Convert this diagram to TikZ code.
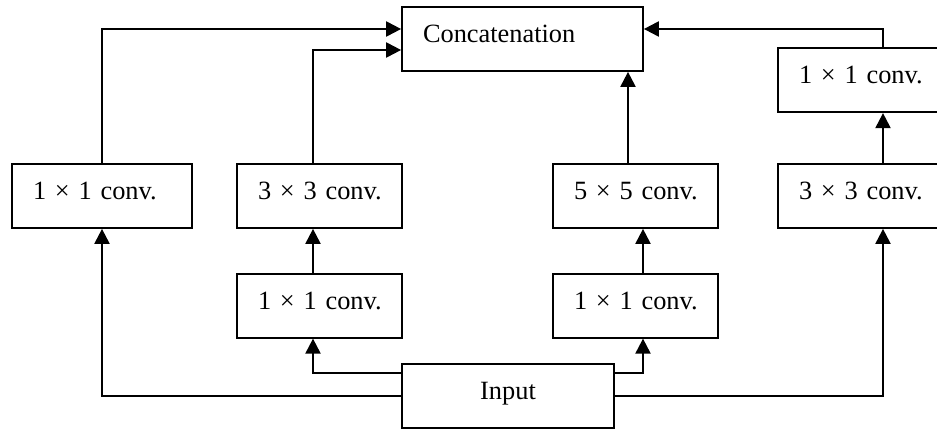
\documentclass[tikz,border=0pt]{standalone}
\usepackage{fontspec}
\setmainfont{Liberation Serif}
\usepackage{tikz}
\usetikzlibrary{arrows.meta, positioning, calc}
\tikzstyle{block} = [draw, rectangle, line width=1pt, minimum height=1.28cm, inner xsep=0.42cm, text height=0.35cm, text depth=0.2cm, align=left, font=\fontsize{15}{18}\selectfont]
\tikzstyle{arrow} = [draw, line width=1.2pt, -{Triangle[length=0.3cm, width=0.3cm]}]

\begin{document}
\begin{tikzpicture}
    \useasboundingbox (0,0) rectangle (18.74,8.6);
    \clip (0,0) rectangle (18.74,8.6);
    % Draw blocks
    \node (concat) [block, text width=3.98cm] at (10.45,7.82) {Concatenation};
    \node (input) [block, text width=3.4cm, align=center] at (10.16,0.68) {Input};

    \node (conv1) [block, text width=2.76cm] at (2.04,4.68) {1~×~1~conv.};
    \node (conv3) [block, text width=2.46cm] at (6.39,4.68) {3~×~3~conv.};
    \node (red3) [block, text width=2.46cm, below=0.88cm of conv3] {1~×~1~conv.};
    \node (conv5) [block, text width=2.46cm] at (12.71,4.68) {5~×~5~conv.};
    \node (red5) [block, text width=2.46cm, below=0.88cm of conv5] {1~×~1~conv.};
    \node (pool) [block, text width=3.36cm] at (17.66,4.68) {3~×~3~conv.};
    \node (proj) [block, text width=3.36cm, above=1cm of pool] {1~×~1~conv.};

    % Links
    \draw [arrow] (input.west) -| (conv1.south);
    \draw [arrow] ([yshift=-0.2cm]input.north west) -| ([xshift=-0.13cm]red3.south);
    \draw [arrow] ([yshift=-0.2cm]input.north east) -| ([xshift=0.15cm]red5.south);
    \draw [arrow] (input.east) -| (pool.south);

    \draw [arrow] ([xshift=-0.13cm]red3.north) -- ([xshift=-0.13cm]conv3.south);
    \draw [arrow] ([xshift=0.15cm]red5.north) -- ([xshift=0.15cm]conv5.south);
    \draw [arrow] (pool.north) -- (proj.south);

    \draw [arrow] (conv1.north) |- ([yshift=0.2cm]concat.west);
    \draw [arrow] ([xshift=-0.13cm]conv3.north) |- ([yshift=-0.22cm]concat.west);
    \draw [arrow] ([xshift=-0.15cm]conv5.north) -- ([xshift=-0.15cm]conv5.north |- concat.south);
    \draw [arrow] (proj.north) |- ([yshift=0.2cm]concat.east);
\end{tikzpicture}
\end{document}
